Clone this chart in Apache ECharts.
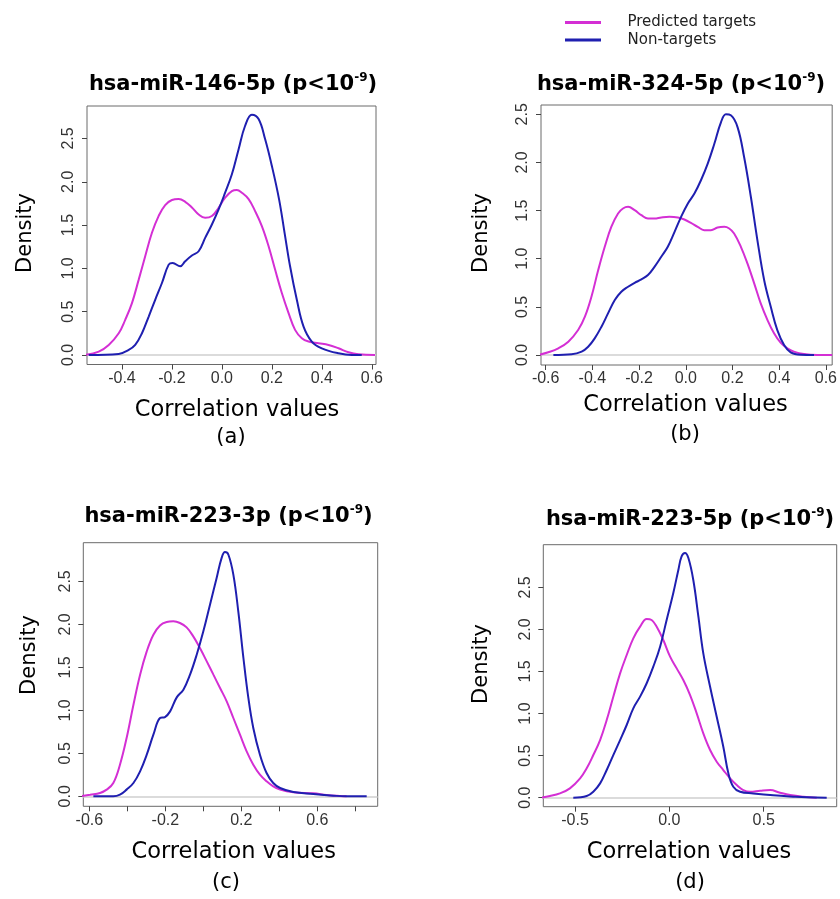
<!DOCTYPE html>
<html>
<head>
<meta charset="utf-8">
<script src="https://cdn.jsdelivr.net/npm/echarts@6/dist/echarts.min.js"></script>
<style>html,body{margin:0;padding:0;background:#fff}#chart{width:840px;height:899px}</style>
</head>
<body>
<div id="chart"></div>
<script>
// ---------- data ----------
const seriesNames = ['Predicted targets', 'Non-targets'];
const panelTitles = ['hsa-miR-146-5p', 'hsa-miR-324-5p', 'hsa-miR-223-3p', 'hsa-miR-223-5p'];
const panelLetters = ['(a)', '(b)', '(c)', '(d)'];
const pLabel = ['p<10', '-9'];

const yTicks = [0, 0.5, 1.0, 1.5, 2.0, 2.5];
const xTicksA = [-0.4, -0.2, 0.0, 0.2, 0.4, 0.6];
const xTicksB = [-0.6, -0.4, -0.2, 0.0, 0.2, 0.4, 0.6];
const xTicksC = [-0.6, -0.4, -0.2, 0.0, 0.2, 0.4, 0.6, 0.8];
const xLabelsC = [-0.6, -0.2, 0.2, 0.6];
const xTicksD = [-0.5, 0.0, 0.5];

const predA = [[-0.547,0],[-0.493,0.039],[-0.453,0.116],[-0.413,0.251],[-0.387,0.406],[-0.36,0.599],[-0.333,0.87],[-0.307,1.14],[-0.28,1.411],[-0.253,1.607],[-0.227,1.731],[-0.2,1.789],[-0.173,1.8],[-0.147,1.769],[-0.12,1.704],[-0.093,1.623],[-0.067,1.584],[-0.04,1.604],[-0.013,1.7],[0.013,1.816],[0.04,1.893],[0.06,1.905],[0.08,1.874],[0.107,1.8],[0.133,1.661],[0.16,1.488],[0.187,1.256],[0.213,0.986],[0.24,0.715],[0.267,0.483],[0.293,0.29],[0.32,0.193],[0.347,0.155],[0.387,0.135],[0.427,0.116],[0.467,0.077],[0.507,0.031],[0.547,0.008],[0.613,0]];
const nonA = [[-0.533,0],[-0.413,0.012],[-0.373,0.058],[-0.347,0.116],[-0.32,0.251],[-0.293,0.444],[-0.267,0.637],[-0.24,0.831],[-0.213,1.043],[-0.197,1.062],[-0.167,1.024],[-0.147,1.082],[-0.12,1.148],[-0.093,1.198],[-0.067,1.352],[-0.04,1.507],[-0.013,1.681],[0.013,1.874],[0.04,2.086],[0.067,2.376],[0.093,2.647],[0.12,2.774],[0.147,2.724],[0.173,2.493],[0.2,2.184],[0.229,1.797],[0.251,1.41],[0.273,1.024],[0.3,0.637],[0.327,0.328],[0.36,0.155],[0.4,0.077],[0.467,0.019],[0.52,0],[0.56,0]];

const predB = [[-0.631,0],[-0.589,0.028],[-0.546,0.069],[-0.503,0.138],[-0.461,0.259],[-0.432,0.398],[-0.404,0.605],[-0.375,0.882],[-0.347,1.124],[-0.319,1.331],[-0.29,1.47],[-0.269,1.522],[-0.247,1.539],[-0.219,1.504],[-0.19,1.452],[-0.162,1.417],[-0.134,1.417],[-0.105,1.428],[-0.07,1.435],[-0.034,1.428],[-0.006,1.407],[0.022,1.373],[0.051,1.331],[0.079,1.297],[0.108,1.297],[0.136,1.324],[0.165,1.331],[0.186,1.314],[0.207,1.262],[0.236,1.124],[0.264,0.951],[0.293,0.744],[0.321,0.536],[0.35,0.363],[0.378,0.225],[0.406,0.128],[0.435,0.069],[0.463,0.035],[0.506,0.01],[0.563,0],[0.627,0]];
const nonB = [[-0.567,0],[-0.489,0.007],[-0.446,0.035],[-0.418,0.086],[-0.39,0.173],[-0.361,0.294],[-0.333,0.432],[-0.304,0.571],[-0.276,0.657],[-0.247,0.709],[-0.219,0.75],[-0.19,0.785],[-0.162,0.83],[-0.134,0.916],[-0.105,1.02],[-0.077,1.124],[-0.048,1.279],[-0.02,1.435],[0.009,1.574],[0.037,1.677],[0.065,1.815],[0.094,1.988],[0.122,2.192],[0.151,2.42],[0.172,2.5],[0.193,2.49],[0.222,2.365],[0.25,2.054],[0.279,1.639],[0.307,1.189],[0.336,0.774],[0.364,0.501],[0.392,0.259],[0.421,0.104],[0.449,0.028],[0.492,0.003],[0.549,0]];

const predC = [[-0.649,0],[-0.596,0.019],[-0.544,0.039],[-0.509,0.078],[-0.474,0.155],[-0.439,0.368],[-0.404,0.678],[-0.368,1.066],[-0.333,1.415],[-0.298,1.686],[-0.263,1.88],[-0.228,1.988],[-0.193,2.027],[-0.158,2.035],[-0.123,2.016],[-0.088,1.965],[-0.053,1.86],[-0.018,1.725],[0.018,1.57],[0.053,1.415],[0.088,1.26],[0.123,1.105],[0.158,0.911],[0.193,0.717],[0.228,0.523],[0.263,0.368],[0.298,0.252],[0.333,0.174],[0.368,0.116],[0.404,0.078],[0.474,0.047],[0.579,0.035],[0.649,0.016],[0.719,0.004],[0.754,0]];
const nonC = [[-0.579,0],[-0.474,0],[-0.439,0.019],[-0.404,0.078],[-0.368,0.155],[-0.333,0.291],[-0.298,0.484],[-0.263,0.717],[-0.228,0.911],[-0.202,0.922],[-0.175,0.988],[-0.14,1.151],[-0.105,1.24],[-0.07,1.415],[-0.035,1.647],[0,1.919],[0.035,2.229],[0.07,2.539],[0.096,2.771],[0.114,2.841],[0.132,2.81],[0.158,2.578],[0.184,2.151],[0.211,1.609],[0.237,1.144],[0.263,0.795],[0.298,0.484],[0.333,0.271],[0.368,0.155],[0.404,0.097],[0.474,0.05],[0.579,0.027],[0.684,0.008],[0.754,0],[0.86,0]];

const predD = [[-0.686,0],[-0.633,0.02],[-0.58,0.051],[-0.527,0.111],[-0.473,0.23],[-0.438,0.349],[-0.403,0.507],[-0.367,0.685],[-0.332,0.923],[-0.297,1.2],[-0.261,1.478],[-0.226,1.696],[-0.191,1.894],[-0.155,2.033],[-0.12,2.124],[-0.094,2.112],[-0.067,2.033],[-0.032,1.874],[0.004,1.676],[0.039,1.537],[0.074,1.399],[0.11,1.22],[0.145,1.002],[0.18,0.765],[0.216,0.567],[0.251,0.428],[0.286,0.329],[0.322,0.23],[0.357,0.151],[0.392,0.091],[0.428,0.071],[0.481,0.083],[0.534,0.091],[0.587,0.059],[0.64,0.032],[0.71,0.012],[0.781,0]];
const nonD = [[-0.509,0],[-0.438,0.02],[-0.403,0.071],[-0.367,0.17],[-0.332,0.329],[-0.297,0.507],[-0.261,0.685],[-0.226,0.864],[-0.191,1.062],[-0.155,1.201],[-0.12,1.36],[-0.085,1.558],[-0.049,1.795],[-0.014,2.116],[0.021,2.433],[0.048,2.71],[0.065,2.868],[0.083,2.908],[0.101,2.848],[0.127,2.587],[0.154,2.151],[0.18,1.715],[0.216,1.319],[0.251,0.963],[0.286,0.606],[0.313,0.289],[0.339,0.131],[0.375,0.071],[0.445,0.051],[0.551,0.028],[0.657,0.012],[0.728,0.004],[0.834,0]];

// ---------- layout / style ----------
const MAGENTA = '#D42FD4';
const BLUE = '#1F1FB0';
const SANS = 'DejaVu Sans';
const ARIAL = 'Liberation Sans';

const panels = [
  { grid: {left: 87, top: 106, width: 289, height: 258.5}, xr: [-0.54, 0.617], yr: [-0.11, 2.875],
    xt: xTicksA, xl: xTicksA, pred: predA, non: nonA,
    title: [233, 85], xname: [237, 410], letter: [231, 438], yname: [26, 233] },
  { grid: {left: 541, top: 105, width: 292, height: 260}, xr: [-0.62, 0.627], yr: [-0.104, 2.597],
    xt: xTicksB, xl: xTicksB, pred: predB, non: nonB,
    title: [681, 85], xname: [685.5, 405], letter: [685, 435], yname: [482, 233] },
  { grid: {left: 83.3, top: 542.7, width: 294.4, height: 263.6}, xr: [-0.632, 0.918], yr: [-0.116, 2.95],
    xt: xTicksC, xl: xLabelsC, pred: predC, non: nonC,
    title: [228.5, 517], xname: [233.7, 852], letter: [226, 883], yname: [30, 655] },
  { grid: {left: 543.3, top: 544.7, width: 293.4, height: 262}, xr: [-0.668, 0.887], yr: [-0.107, 3.007],
    xt: xTicksD, xl: xTicksD, pred: predD, non: nonD,
    title: [690, 520], xname: [689, 852.5], letter: [690, 883], yname: [482, 664] }
];

const fmt = v => Number(v).toFixed(1);
const grids = [], xAxes = [], yAxes = [], series = [], graphics = [];

panels.forEach((p, i) => {
  grids.push(Object.assign({ show: true, borderColor: '#6a6a6a', borderWidth: 1, backgroundColor: 'transparent', containLabel: false }, p.grid));
  xAxes.push({
    type: 'value', gridIndex: i, min: p.xr[0], max: p.xr[1], position: 'bottom',
    axisLine: { show: false, onZero: false },
    axisTick: { show: true, length: 5, lineStyle: { color: '#444' }, customValues: p.xt },
    axisLabel: { show: true, margin: 6, customValues: p.xl, formatter: fmt,
      fontFamily: ARIAL, fontSize: 16, color: '#333' },
    splitLine: { show: false }
  });
  yAxes.push({
    type: 'value', gridIndex: i, min: p.yr[0], max: p.yr[1], position: 'left',
    axisLine: { show: false, onZero: false },
    axisTick: { show: true, length: 5, lineStyle: { color: '#444' }, customValues: yTicks },
    axisLabel: { show: true, rotate: 90, margin: 10, customValues: yTicks, formatter: fmt,
      fontFamily: ARIAL, fontSize: 16, color: '#333' },
    splitLine: { show: false }
  });
  series.push({
    name: seriesNames[0], type: 'line', xAxisIndex: i, yAxisIndex: i, data: p.pred,
    showSymbol: false, symbol: 'none', smooth: 0.4, color: MAGENTA,
    lineStyle: { color: MAGENTA, width: 2 }, z: 3,
    markLine: { silent: true, symbol: ['none', 'none'], label: { show: false },
      lineStyle: { color: '#cfcfcf', width: 1.5, type: 'solid' }, data: [{ yAxis: 0 }], z: 1 }
  });
  series.push({
    name: seriesNames[1], type: 'line', xAxisIndex: i, yAxisIndex: i, data: p.non,
    showSymbol: false, symbol: 'none', smooth: 0.4, color: BLUE,
    lineStyle: { color: BLUE, width: 2 }, z: 4
  });
  graphics.push({
    type: 'text', x: p.title[0], y: p.title[1], z: 10,
    style: {
      text: '{t|' + panelTitles[i] + ' (' + pLabel[0] + '}{s|' + pLabel[1] + '}{t|)}',
      align: 'center', verticalAlign: 'middle',
      rich: {
        t: { fontFamily: SANS, fontWeight: 'bold', fontSize: 21, lineHeight: 26, fill: '#000' },
        s: { fontFamily: SANS, fontWeight: 'bold', fontSize: 12, lineHeight: 12, verticalAlign: 'top', fill: '#000' }
      }
    }
  });
  graphics.push({
    type: 'text', x: p.xname[0], y: p.xname[1],
    style: { text: 'Correlation values', align: 'center', verticalAlign: 'middle',
      fontFamily: SANS, fontSize: 22.5, fill: '#000' }
  });
  graphics.push({
    type: 'text', x: p.letter[0], y: p.letter[1],
    style: { text: panelLetters[i], align: 'center', verticalAlign: 'middle',
      fontFamily: SANS, fontSize: 21, fill: '#000' }
  });
  graphics.push({
    type: 'text', x: p.yname[0], y: p.yname[1], rotation: Math.PI / 2,
    style: { text: 'Density', align: 'center', verticalAlign: 'middle',
      fontFamily: SANS, fontSize: 21, fill: '#000' }
  });
});

const chart = echarts.init(document.getElementById('chart'), null, { renderer: 'canvas' });
chart.setOption({
  animation: false,
  backgroundColor: '#fff',
  legend: {
    data: seriesNames, orient: 'vertical', left: 560, top: 10, itemGap: 2.5,
    icon: 'rect', itemWidth: 36, itemHeight: 3,
    formatter: name => '{sp|}{t|' + name + '}',
    textStyle: {
      rich: {
        sp: { width: 21.5 },
        t: { fontFamily: SANS, fontSize: 15, lineHeight: 17, color: '#222' }
      }
    },
    selectedMode: false
  },
  grid: grids, xAxis: xAxes, yAxis: yAxes, series: series, graphic: graphics
});
</script>
</body>
</html>
